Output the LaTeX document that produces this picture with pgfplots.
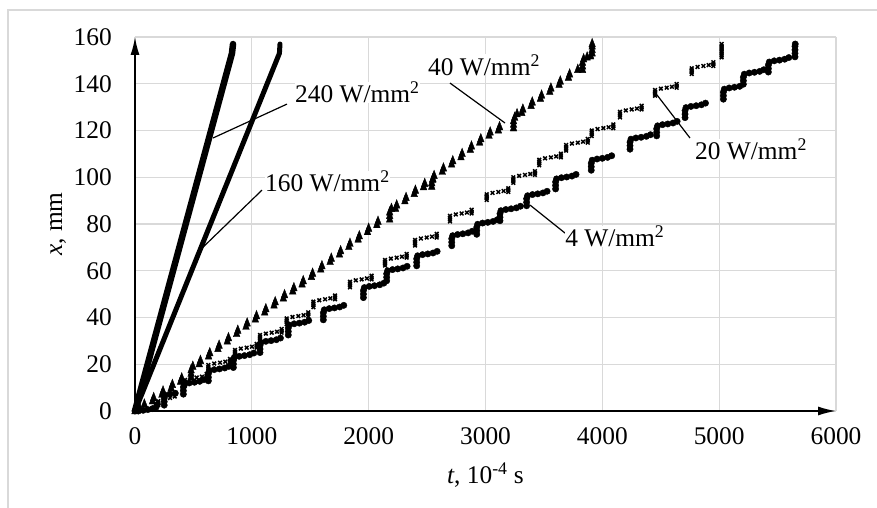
\documentclass[border=0pt]{standalone}
\usepackage{fontspec}
\setmainfont{Liberation Serif}
\usepackage{pgfplots}
\pgfplotsset{compat=1.18}
\usetikzlibrary{arrows.meta}
\definecolor{gridgray}{HTML}{D9D9D9}
\begin{document}
\fontsize{25.5}{30}\selectfont
\begin{tikzpicture}
\useasboundingbox (-135bp,-97bp) rectangle (742bp,411bp);
\draw[gridgray, line width=1.3bp] (-127bp,-97bp) -- (-127bp,401bp) -- (742bp,401bp);
\begin{axis}[
  at={(0,0)}, anchor=south west,
  scale only axis, width=701bp, height=374bp,
  xmin=0, xmax=6000, ymin=0, ymax=160,
  enlargelimits=false,
  axis lines=left,
  axis line style={line width=1.6bp, -{Latex[length=18bp,width=9bp]}},
  xtick={0,1000,...,6000}, ytick={0,20,...,160},
  grid=major, major grid style={gridgray, line width=1.3bp},
  major tick length=0pt,
  tick label style={font=\fontsize{25.5}{30}\selectfont, inner sep=0pt},
  xticklabel style={anchor=north, yshift=-16bp},
  yticklabel style={anchor=east, xshift=-23bp},
  /pgf/number format/assume math mode=true,
  /pgf/number format/set thousands separator={},
  xlabel={\textit{t}, 10\textsuperscript{-4} s},
  ylabel={\textit{x}, mm},
  xlabel style={at={(axis description cs:0.5,-0.195)}, anchor=base},
  ylabel style={at={(axis description cs:-0.104,0.5)}, anchor=base},
  label style={font=\fontsize{25.5}{30}\selectfont},
  clip=false,
]
% 240 W/mm2
\addplot[black, line width=6.5bp, line cap=round] coordinates {(0,0) (830,153) (839,157)};
% 160 W/mm2
\addplot[black, line width=5bp, line cap=round] coordinates {(0,0) (1236,153) (1241,157)};
% 40 W/mm2
\addplot[only marks, mark=triangle*, mark size=3.8pt, mark options={black, yscale=1.5}] coordinates {
(0,0) (40,1.2) (80,2.8) (150,4.2) (160,5.6) (230,7) (240,8.4) (310,9.8) (320,11.2) (390,12.6) (400,14)
(480,14.5) (480,16) (480,17.5) (495,19)
(550,20.1) (560,21.5) (630,23.4) (640,24.8) (710,26.6) (720,28) (790,29.8) (800,31.2)
(870,33) (880,34.4) (950,36.1) (960,37.5) (1030,39.2) (1040,40.6) (1110,42.2) (1120,43.6)
(1190,45.2) (1200,46.6) (1270,48.2) (1280,49.6) (1350,51.2) (1360,52.6) (1430,54.2) (1440,55.6)
(1510,57.4) (1520,58.8) (1590,60.6) (1600,62) (1670,63.8) (1680,65.2) (1750,67) (1760,68.4)
(1830,70.2) (1840,71.6) (1910,73.4) (1920,74.8) (1990,76.6) (2000,78) (2070,79.6) (2080,81)
(2180,82) (2180,83.5) (2180,85) (2195,86.5)
(2230,86.6) (2240,88) (2310,89.8) (2320,91.2) (2390,92.9) (2400,94.3) (2470,95.8) (2480,97.2)
(2540,96) (2540,97.5) (2548,99)
(2550,99.2) (2560,100.6) (2630,102.4) (2640,103.8) (2710,105.5) (2720,106.9) (2790,108.6) (2800,110)
(2870,111.8) (2880,113.2) (2950,114.9) (2960,116.3) (3030,117.8) (3040,119.2) (3110,120.1) (3120,121.5)
(3240,121) (3240,122.5) (3240,124) (3250,125.5) (3270,127)
(3310,127.6) (3320,129) (3390,130.6) (3400,132) (3470,133.6) (3480,135) (3550,136.6) (3560,138)
(3630,139.6) (3640,141) (3710,142.6) (3720,144) (3790,146)
(3830,146) (3830,147.5) (3830,149) (3840,150.5) (3870,151.3) (3900,151.8)
(3913,153) (3913,154.5) (3913,156) (3913,157)
};
% 20 W/mm2
\addplot[only marks, mark=x, mark size=2.6pt, mark options={black, line width=1.5pt}] coordinates {
(0,0) (40,0.2) (80,0.5) (120,0.9) (160,1.4) (200,2.6) (200,3.4) (200,4.2) (250,5) (300,5.6) (340,6.2)
(428,10.9) (428,11.7) (428,12.5) (428,13.3) (478,13.9) (528,14.3) (573,14.7) (613,14.3) (613,15.1) (613,15.9)
(628,17.3) (628,18.1) (628,18.9) (628,19.7) (678,20.3) (728,20.7) (773,21.1) (813,20.7) (813,21.5) (813,22.3)
(856,23.7) (856,24.5) (856,25.3) (856,26.1) (906,26.7) (956,27.1) (1001,27.5) (1041,27.1) (1041,27.9) (1041,28.7)
(1070,30.1) (1070,30.9) (1070,31.7) (1070,32.5) (1120,33.1) (1170,33.5) (1215,33.9) (1255,33.5) (1255,34.3) (1255,35.1)
(1298,37.2) (1298,38) (1298,38.8) (1298,39.6) (1348,40.2) (1398,40.6) (1443,41) (1483,40.6) (1483,41.4) (1483,42.2)
(1527,44.4) (1527,45.2) (1527,46) (1527,46.8) (1577,47.4) (1627,47.8) (1672,48.2) (1712,47.8) (1712,48.6) (1712,49.4)
(1840,52.9) (1840,53.7) (1840,54.5) (1840,55.3) (1890,55.9) (1940,56.3) (1985,56.7) (2025,56.3) (2025,57.1) (2025,57.9)
(2140,62.2) (2140,63) (2140,63.8) (2140,64.6) (2190,65.2) (2240,65.6) (2285,66) (2325,65.6) (2325,66.4) (2325,67.2)
(2397,70.8) (2397,71.6) (2397,72.4) (2397,73.2) (2447,73.8) (2497,74.2) (2542,74.6) (2582,74.2) (2582,75) (2582,75.8)
(2696,81.1) (2696,81.9) (2696,82.7) (2696,83.5) (2746,84.1) (2796,84.5) (2841,84.9) (2881,84.5) (2881,85.3) (2881,86.1)
(3010,90.3) (3010,91.1) (3010,91.9) (3010,92.7) (3060,93.3) (3110,93.7) (3155,94.1) (3195,93.7) (3195,94.5) (3195,95.3)
(3238,97.6) (3238,98.4) (3238,99.2) (3238,100) (3288,100.6) (3338,101) (3383,101.4) (3423,101) (3423,101.8) (3423,102.6)
(3460,105.1) (3460,105.9) (3460,106.7) (3460,107.5) (3510,108.1) (3560,108.5) (3605,108.9) (3645,108.5) (3645,109.3) (3645,110.1)
(3690,111.4) (3690,112.2) (3690,113) (3690,113.8) (3740,114.4) (3790,114.8) (3835,115.2) (3875,114.8) (3875,115.6) (3875,116.4)
(3909,117.6) (3909,118.4) (3909,119.2) (3909,120) (3959,120.6) (4009,121) (4054,121.4) (4094,121) (4094,121.8) (4094,122.6)
(4151,125.6) (4151,126.4) (4151,127.2) (4151,128) (4201,128.6) (4251,129) (4296,129.4) (4336,129) (4336,129.8) (4336,130.6)
(4451,134.9) (4451,135.7) (4451,136.5) (4451,137.3) (4501,137.9) (4551,138.3) (4596,138.7) (4636,138.3) (4636,139.1) (4636,139.9)
(4765,144.2) (4765,145) (4765,145.8) (4765,146.6) (4815,147.2) (4865,147.6) (4910,148) (4950,147.6) (4950,148.4) (4950,149.2)
(5021,151.3) (5021,152.1) (5021,152.9) (5021,153.7) (5021,154.5) (5021,155.3) (5021,156.1) (5021,157)
};
% 4 W/mm2
\addplot[only marks, mark=*, mark size=3.2pt, mark options={black}] coordinates {
(0,0) (30,0) (70,0.3) (110,0.6) (150,1) (180,1.6) (190,2.8)
(250,2.5) (250,4) (250,5.5) (258,6.8) (300,7.3) (345,7.6)
(414,7.2) (414,8.7) (414,10.2) (422,11.5) (464,12) (509,12.3) (554,12.7) (589,13.4)
(628,12.9) (628,14.4) (628,15.9) (636,17.2) (678,17.7) (723,18) (768,18.4) (803,19.1)
(842,18.6) (842,20.1) (842,21.6) (850,22.9) (892,23.4) (937,23.7) (982,24.1) (1017,24.8)
(1070,25) (1070,26.5) (1070,28) (1078,29.3) (1120,29.8) (1165,30.1) (1210,30.5) (1245,31.2)
(1312,32.5) (1312,34) (1312,35.5) (1320,36.8) (1362,37.3) (1407,37.6) (1452,38) (1487,38.7)
(1612,39) (1612,40.5) (1612,42) (1620,43.3) (1662,43.8) (1707,44.1) (1752,44.5) (1787,45.2)
(1955,48.5) (1955,50) (1955,51.5) (1963,52.8) (2005,53.3) (2050,53.6) (2095,54) (2130,54.7)
(2154,55.7) (2154,57.2) (2154,58.7) (2162,60) (2204,60.5) (2249,60.8) (2294,61.2) (2329,61.9)
(2411,62.1) (2411,63.6) (2411,65.1) (2419,66.4) (2461,66.9) (2506,67.2) (2551,67.6) (2586,68.3)
(2711,70.7) (2711,72.2) (2711,73.7) (2719,75) (2761,75.5) (2806,75.8) (2851,76.2) (2886,76.9)
(2925,75.6) (2925,77.1) (2925,78.6) (2933,79.9) (2975,80.4) (3020,80.7) (3065,81.1) (3100,81.8)
(3124,81.4) (3124,82.9) (3124,84.4) (3132,85.7) (3174,86.2) (3219,86.5) (3264,86.9) (3299,87.6)
(3352,87.8) (3352,89.3) (3352,90.8) (3360,92.1) (3402,92.6) (3447,92.9) (3492,93.3) (3527,94)
(3600,95) (3600,96.5) (3600,98) (3608,99.3) (3650,99.8) (3695,100.1) (3740,100.5) (3775,101.2)
(3905,103) (3905,104.5) (3905,106) (3913,107.3) (3955,107.8) (4000,108.1) (4045,108.5) (4080,109.2)
(4237,112) (4237,113.5) (4237,115) (4245,116.3) (4287,116.8) (4332,117.1) (4377,117.5) (4412,118.2)
(4465,117.7) (4465,119.2) (4465,120.7) (4473,122) (4515,122.5) (4560,122.8) (4605,123.2) (4640,123.9)
(4708,125.5) (4708,127) (4708,128.5) (4716,129.8) (4758,130.3) (4803,130.6) (4848,131) (4883,131.7)
(5036,133.4) (5036,134.9) (5036,136.4) (5044,137.7) (5086,138.2) (5131,138.5) (5176,138.9)
(5207,139.8) (5207,141.3) (5207,142.8) (5215,144.1) (5257,144.6) (5302,144.9) (5347,145.3) (5382,146)
(5421,145) (5421,146.5) (5421,148) (5429,149.3) (5471,149.8) (5516,150.1) (5561,150.5) (5596,151.2)
(5649,151.5) (5649,153) (5649,154.5) (5649,156) (5651,157)
};
% leader lines
\draw[black, line width=1.2bp] (axis cs:1301,131.3) -- (axis cs:668,116.8);
\draw[black, line width=1.2bp] (axis cs:1087,94.5) -- (axis cs:539,68);
\draw[black, line width=1.2bp] (axis cs:2696,140.3) -- (axis cs:3167,123.2);
\draw[black, line width=1.2bp] (axis cs:4750,116.8) -- (axis cs:4468,135.2);
\draw[black, line width=1.2bp] (axis cs:3681,76.1) -- (axis cs:3381,88.1);
% labels
\tikzset{lbl/.style={anchor=base west, inner sep=0pt, fill=white, font=\fontsize{25.5}{30}\selectfont}}
\node[lbl] at (axis cs:1369,131.8) {240 W/mm\textsuperscript{2}};
\node[lbl] at (axis cs:1113,93.7) {160 W/mm\textsuperscript{2}};
\node[lbl] at (axis cs:2508,143.7) {40 W/mm\textsuperscript{2}};
\node[lbl] at (axis cs:4793,107.4) {20 W/mm\textsuperscript{2}};
\node[lbl] at (axis cs:3681,70.2) {4 W/mm\textsuperscript{2}};
\end{axis}
\end{tikzpicture}
\end{document}
